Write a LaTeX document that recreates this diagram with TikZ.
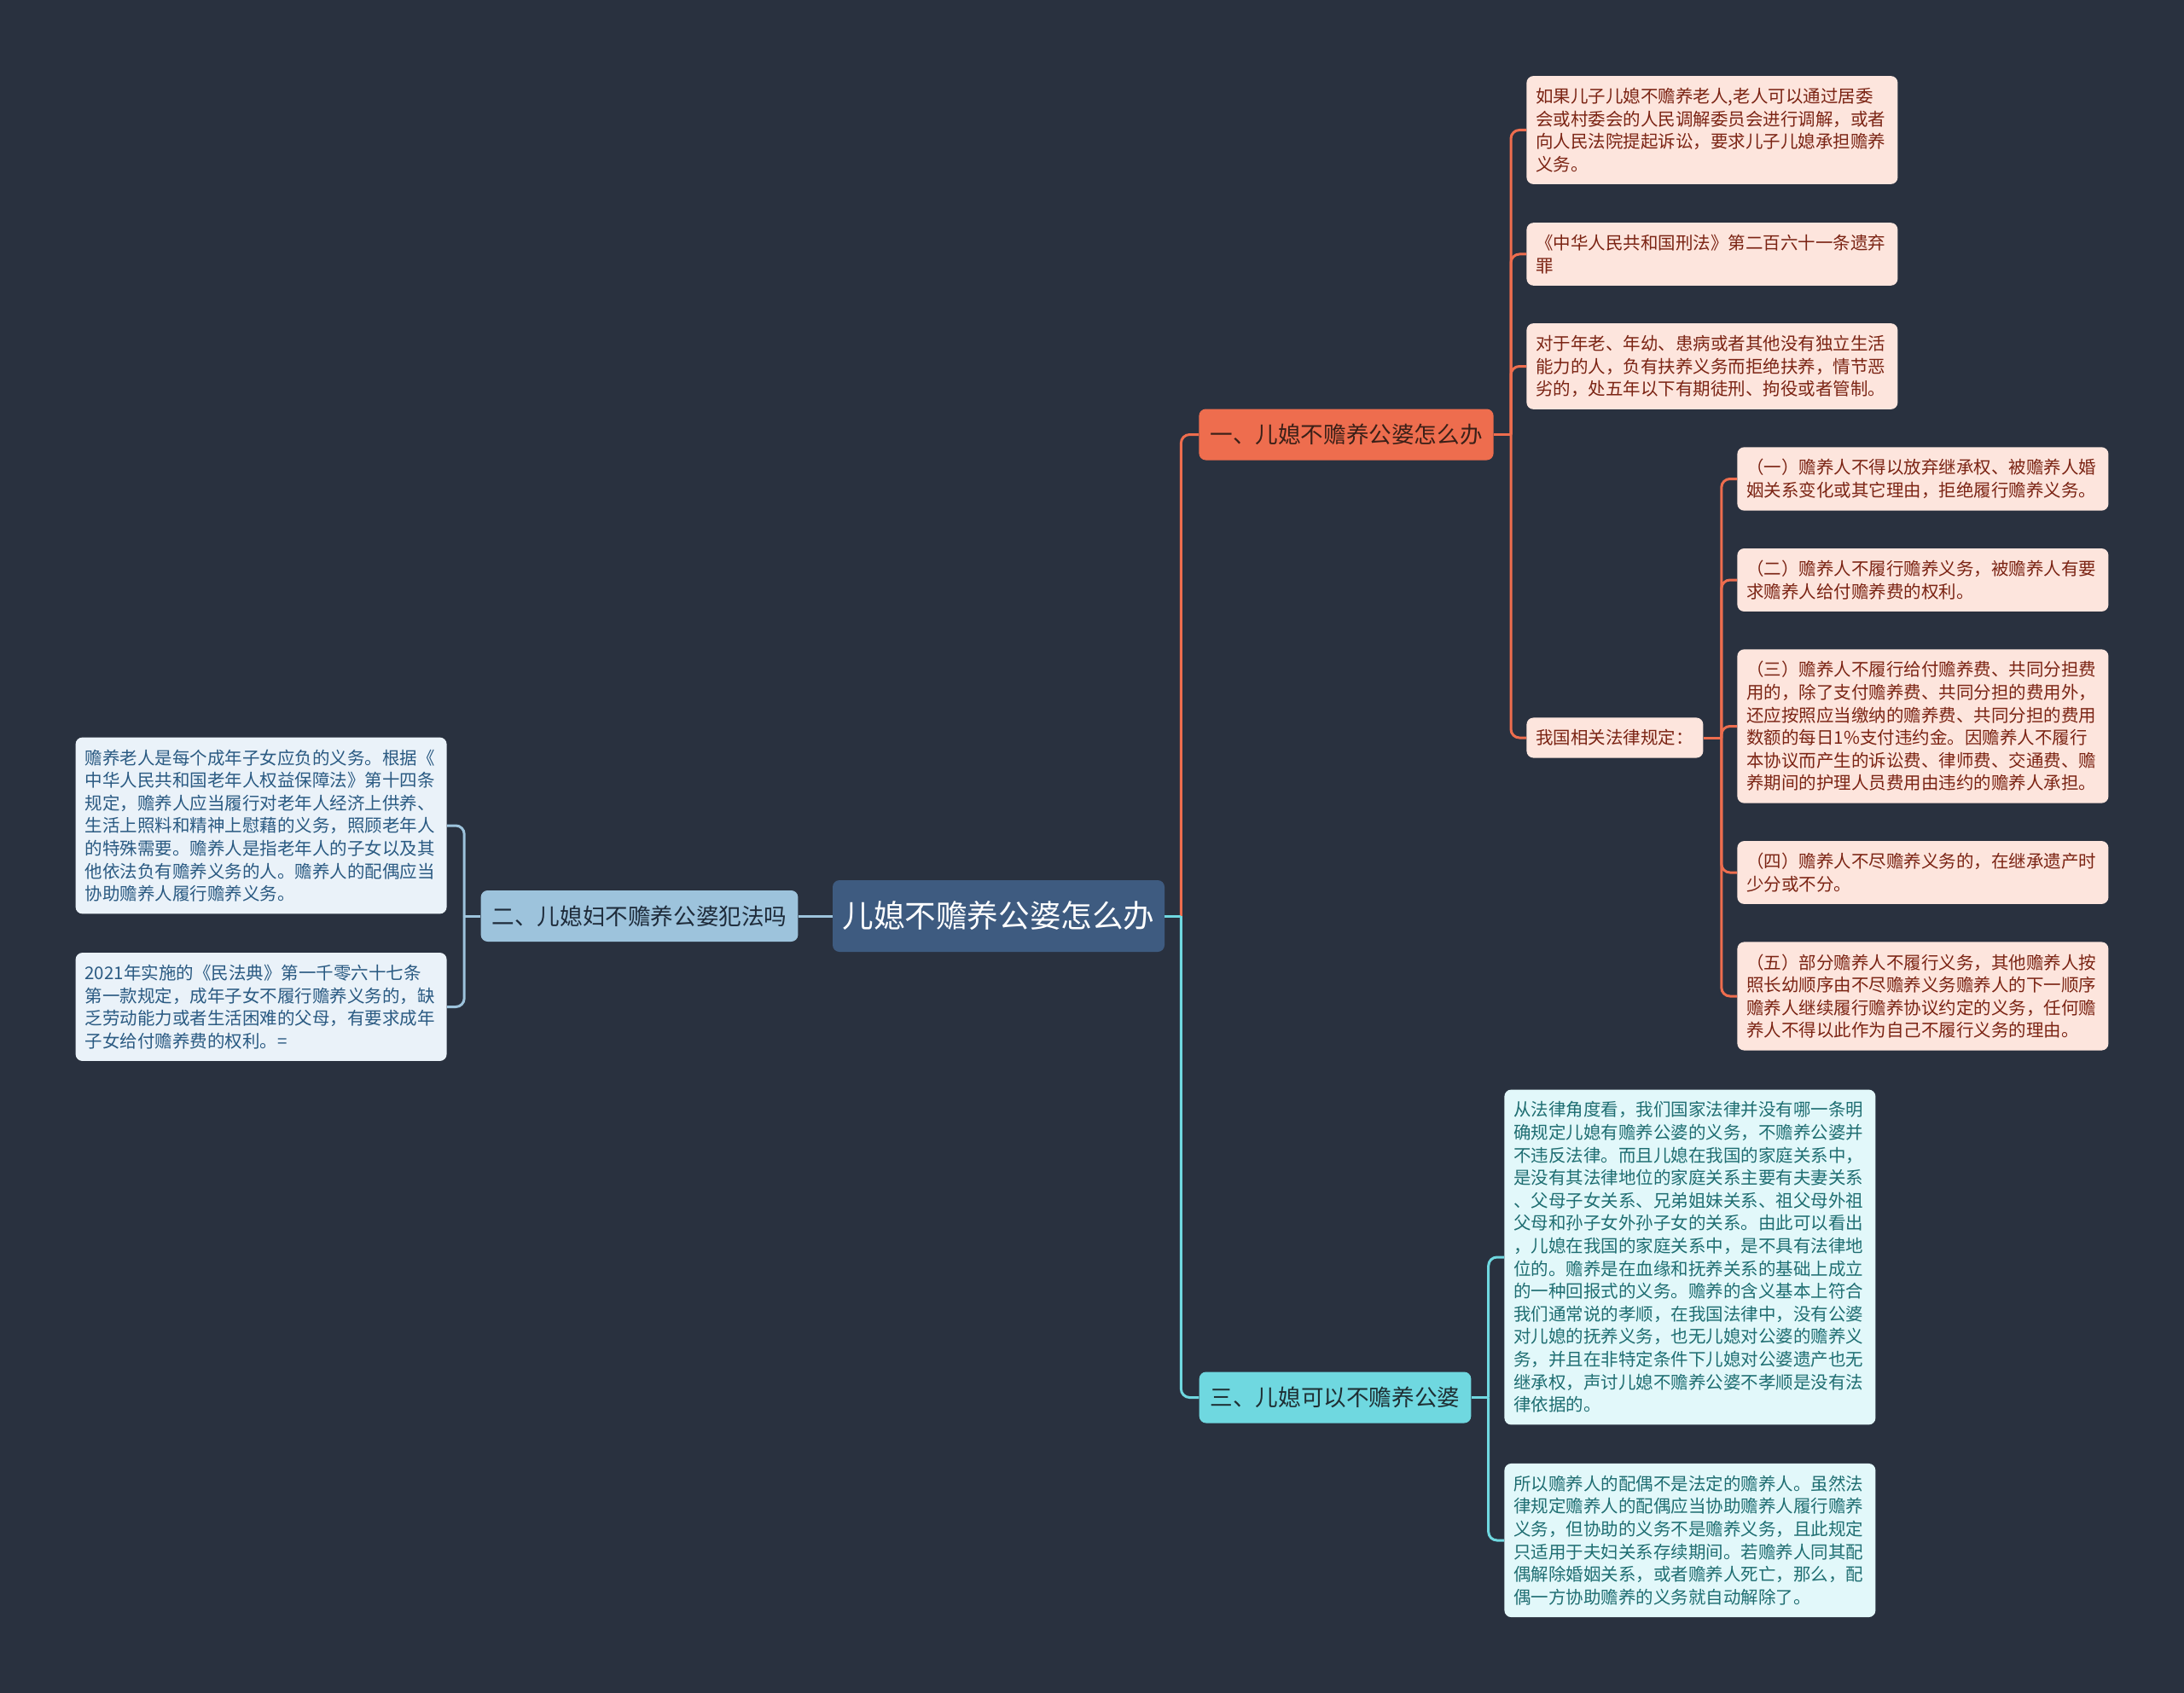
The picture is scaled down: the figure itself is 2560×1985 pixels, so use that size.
\documentclass[tikz,border=0pt]{standalone}
\usepackage{fontspec}
\setmainfont{Noto Sans CJK SC}
\definecolor{bgcol}{HTML}{29313F}
\definecolor{rootcol}{HTML}{3E5B80}
\definecolor{orangecol}{HTML}{EE6D4E}
\definecolor{orangetext}{HTML}{3A2018}
\definecolor{pinkfill}{HTML}{FDE5DD}
\definecolor{pinktext}{HTML}{7B2414}
\definecolor{bluecol}{HTML}{9DC3DC}
\definecolor{bluetext}{HTML}{1E2B3A}
\definecolor{bluefill}{HTML}{EAF2F9}
\definecolor{blueleaftext}{HTML}{2A5A82}
\definecolor{cyancol}{HTML}{6FD8E0}
\definecolor{cyantext}{HTML}{1E2E33}
\definecolor{cyanfill}{HTML}{E2F8FA}
\definecolor{cyanleaftext}{HTML}{1F6E72}
\begin{document}
\begin{tikzpicture}[x=0.5pt, y=-0.5pt, rounded corners=4pt,
  branch/.style={font=\fontsize{13.3pt}{16pt}\selectfont, inner xsep=6.5pt, minimum height=30pt},
  leaf/.style={font=\fontsize{10.25pt}{13.3pt}\selectfont, text width=206.5pt, align=left,
    inner xsep=5.5pt, inner ysep=7pt},
  orangeline/.style={draw=orangecol, line width=1.5pt, rounded corners=5pt},
  blueline/.style={draw=bluecol, line width=1.5pt, rounded corners=5pt},
  cyanline/.style={draw=cyancol, line width=1.5pt, rounded corners=5pt}]
\fill[bgcol, sharp corners] (0,0) rectangle (2560,1985);
\useasboundingbox (0,0) rectangle (2560,1985);
% centre and first level
\node[fill=rootcol, text=white, font=\fontsize{18.3pt}{22pt}\selectfont, minimum width=194.5pt, minimum height=42pt] (root) at (1170.5,1074) {儿媳不赡养公婆怎么办};
\node[branch, fill=orangecol, text=orangetext] (b1) at (1578,509.5) {一、儿媳不赡养公婆怎么办};
\node[branch, fill=bluecol, text=bluetext] (b2) at (749.5,1074) {二、儿媳妇不赡养公婆犯法吗};
\node[branch, fill=cyancol, text=cyantext] (b3) at (1565,1638.5) {三、儿媳可以不赡养公婆};
% branch one
\node[leaf, fill=pinkfill, text=pinktext, anchor=west] (r1a) at (1789,152.5) {如果儿子儿媳不赡养老人,老人可以通过居委\\会或村委会的人民调解委员会进行调解，或者\\向人民法院提起诉讼，要求儿子儿媳承担赡养\\义务。};
\node[leaf, fill=pinkfill, text=pinktext, anchor=west] (r1b) at (1789,298) {《中华人民共和国刑法》第二百六十一条遗弃\\罪};
\node[leaf, fill=pinkfill, text=pinktext, anchor=west] (r1c) at (1789,429.5) {对于年老、年幼、患病或者其他没有独立生活\\能力的人，负有扶养义务而拒绝扶养，情节恶\\劣的，处五年以下有期徒刑、拘役或者管制。};
\node[leaf, fill=pinkfill, text=pinktext, anchor=west, text width=92.5pt] (law) at (1789,865) {我国相关法律规定：};
\node[leaf, fill=pinkfill, text=pinktext, anchor=west] (s1) at (2036,561.5) {（一）赡养人不得以放弃继承权、被赡养人婚\\姻关系变化或其它理由，拒绝履行赡养义务。};
\node[leaf, fill=pinkfill, text=pinktext, anchor=west] (s2) at (2036,680) {（二）赡养人不履行赡养义务，被赡养人有要\\求赡养人给付赡养费的权利。};
\node[leaf, fill=pinkfill, text=pinktext, anchor=west] (s3) at (2036,851.5) {（三）赡养人不履行给付赡养费、共同分担费\\用的，除了支付赡养费、共同分担的费用外，\\还应按照应当缴纳的赡养费、共同分担的费用\\数额的每日1\%支付违约金。因赡养人不履行\\本协议而产生的诉讼费、律师费、交通费、赡\\养期间的护理人员费用由违约的赡养人承担。};
\node[leaf, fill=pinkfill, text=pinktext, anchor=west] (s4) at (2036,1023) {（四）赡养人不尽赡养义务的，在继承遗产时\\少分或不分。};
\node[leaf, fill=pinkfill, text=pinktext, anchor=west] (s5) at (2036,1168) {（五）部分赡养人不履行义务，其他赡养人按\\照长幼顺序由不尽赡养义务赡养人的下一顺序\\赡养人继续履行赡养协议约定的义务，任何赡\\养人不得以此作为自己不履行义务的理由。};
% branch two
\node[leaf, fill=bluefill, text=blueleaftext, anchor=east] (l1) at (524,968) {赡养老人是每个成年子女应负的义务。根据《\\中华人民共和国老年人权益保障法》第十四条\\规定，赡养人应当履行对老年人经济上供养、\\生活上照料和精神上慰藉的义务，照顾老年人\\的特殊需要。赡养人是指老年人的子女以及其\\他依法负有赡养义务的人。赡养人的配偶应当\\协助赡养人履行赡养义务。};
\node[leaf, fill=bluefill, text=blueleaftext, anchor=east] (l2) at (524,1180.5) {2021年实施的《民法典》第一千零六十七条\\第一款规定，成年子女不履行赡养义务的，缺\\乏劳动能力或者生活困难的父母，有要求成年\\子女给付赡养费的权利。=};
% branch three
\node[leaf, fill=cyanfill, text=cyanleaftext, anchor=west] (r3a) at (1763,1474) {从法律角度看，我们国家法律并没有哪一条明\\确规定儿媳有赡养公婆的义务，不赡养公婆并\\不违反法律。而且儿媳在我国的家庭关系中，\\是没有其法律地位的家庭关系主要有夫妻关系\\、父母子女关系、兄弟姐妹关系、祖父母外祖\\父母和孙子女外孙子女的关系。由此可以看出\\，儿媳在我国的家庭关系中，是不具有法律地\\位的。赡养是在血缘和抚养关系的基础上成立\\的一种回报式的义务。赡养的含义基本上符合\\我们通常说的孝顺，在我国法律中，没有公婆\\对儿媳的抚养义务，也无儿媳对公婆的赡养义\\务，并且在非特定条件下儿媳对公婆遗产也无\\继承权，声讨儿媳不赡养公婆不孝顺是没有法\\律依据的。};
\node[leaf, fill=cyanfill, text=cyanleaftext, anchor=west] (r3b) at (1763,1806) {所以赡养人的配偶不是法定的赡养人。虽然法\\律规定赡养人的配偶应当协助赡养人履行赡养\\义务，但协助的义务不是赡养义务，且此规定\\只适用于夫妇关系存续期间。若赡养人同其配\\偶解除婚姻关系，或者赡养人死亡，那么，配\\偶一方协助赡养的义务就自动解除了。};
% connectors
\path (root.east) ++(19,0) coordinate (hub);
\path (b1.east) ++(20,0) coordinate (hub1);
\path (law.east) ++(21,0) coordinate (hub1s);
\path (b2.west) ++(-19,0) coordinate (hub2);
\path (b3.east) ++(20,0) coordinate (hub3);
\draw[orangeline] (hub) |- (b1.west);
\draw[cyanline] (hub) |- (b3.west);
\draw[cyanline, sharp corners] (root.east) -- (hub);
\draw[blueline] (root.west) -- (b2.east);
\draw[orangeline, sharp corners] (b1.east) -- (hub1);
\foreach \n in {r1a,r1b,r1c,law}
  \draw[orangeline] (hub1) |- (\n.west);
\draw[orangeline, sharp corners] (law.east) -- (hub1s);
\foreach \n in {s1,s2,s3,s4,s5}
  \draw[orangeline] (hub1s) |- (\n.west);
\draw[blueline, sharp corners] (b2.west) -- (hub2);
\foreach \n in {l1,l2}
  \draw[blueline] (hub2) |- (\n.east);
\draw[cyanline, sharp corners] (b3.east) -- (hub3);
\foreach \n in {r3a,r3b}
  \draw[cyanline] (hub3) |- (\n.west);
\end{tikzpicture}
\end{document}
